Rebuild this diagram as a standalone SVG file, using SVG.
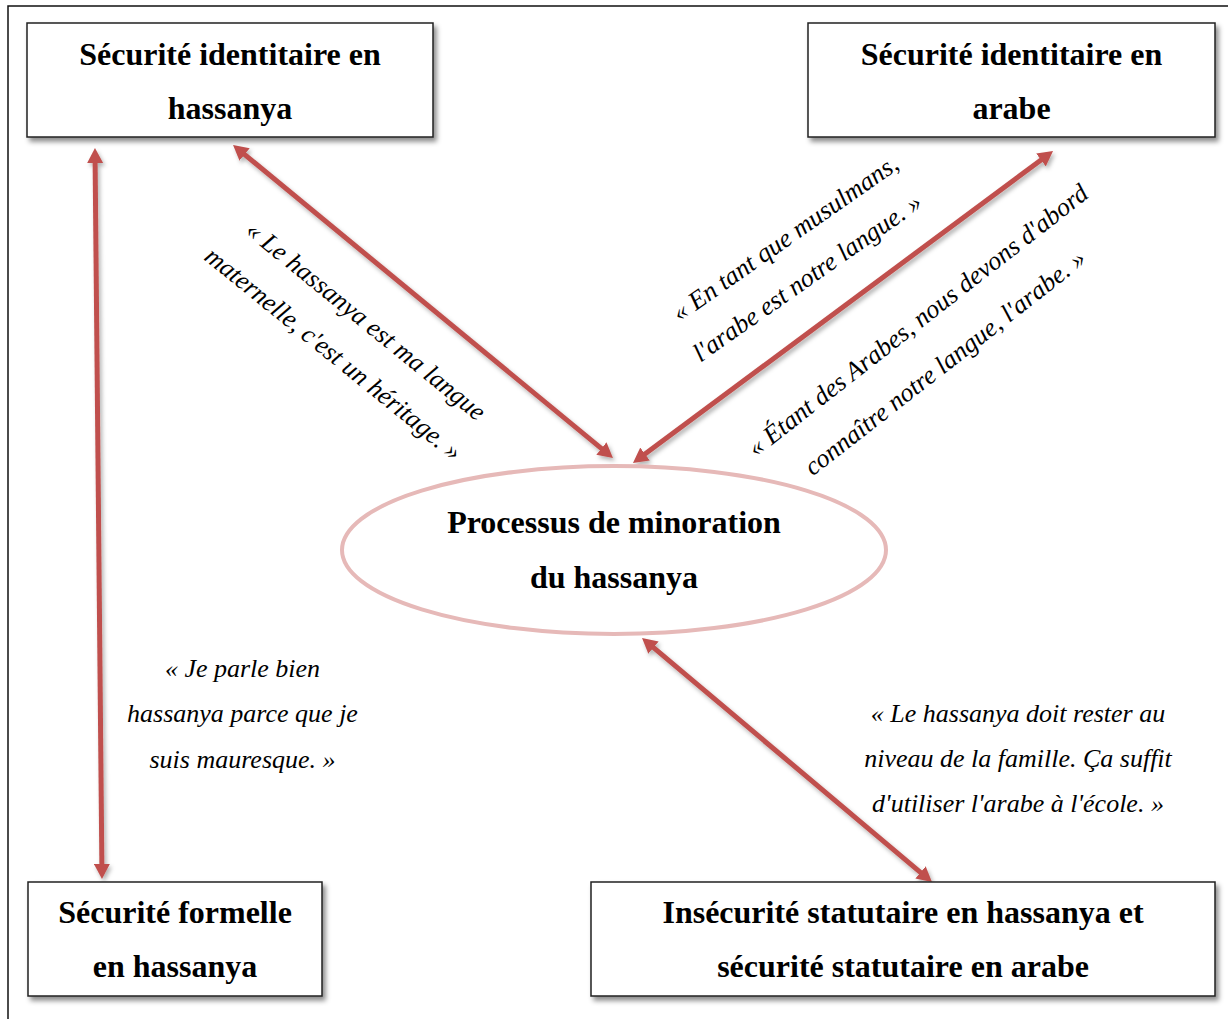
<svg xmlns="http://www.w3.org/2000/svg" width="1228" height="1019" viewBox="0 0 1228 1019">
<defs>
<style>
.box{fill:#fff;stroke:#222;stroke-width:1.5}
.bt{font-family:"Liberation Serif","Times New Roman",serif;font-weight:bold;font-size:32px;fill:#000;text-anchor:middle}
.q{font-family:"Liberation Serif","Times New Roman",serif;font-style:italic;font-size:26px;fill:#000;text-anchor:middle}
.arr{stroke:#c0504d;stroke-width:5;fill:none;marker-start:url(#ah);marker-end:url(#ah)}
</style>
<filter id="sh" x="-10%" y="-10%" width="130%" height="140%">
<feDropShadow dx="3" dy="4" stdDeviation="2.5" flood-color="#000" flood-opacity="0.45"/>
</filter>
<filter id="ash" x="-10%" y="-10%" width="130%" height="130%">
<feDropShadow dx="2" dy="3" stdDeviation="2" flood-color="#000" flood-opacity="0.3"/>
</filter>
<marker id="ah" markerUnits="userSpaceOnUse" markerWidth="16" markerHeight="16" refX="3" refY="8" orient="auto-start-reverse" viewBox="0 0 16 16">
<path d="M0,0 L15,8 L0,16 z" fill="#c0504d"/>
</marker>
</defs>
<rect width="1228" height="1019" fill="#fff"/>
<rect x="8" y="6" width="1240" height="1040" fill="none" stroke="#111" stroke-width="1.5"/>

<g id="connectors" filter="url(#ash)">
<line class="arr" x1="95.1" y1="160" x2="101.9" y2="867"/>
<line class="arr" x1="242.3" y1="152.6" x2="603.7" y2="450.4"/>
<line class="arr" x1="1043.4" y1="158.2" x2="642.6" y2="455.8"/>
<line class="arr" x1="651.2" y1="645.7" x2="922.8" y2="874.3"/>
</g>

<g id="node-identitaire-hassanya">
<rect class="box" x="27" y="23" width="406" height="114" filter="url(#sh)"/>
<text class="bt" x="230" y="65">Sécurité identitaire en</text>
<text class="bt" x="230" y="119">hassanya</text>
</g>

<g id="node-identitaire-arabe">
<rect class="box" x="808" y="23" width="407" height="114" filter="url(#sh)"/>
<text class="bt" x="1011.5" y="65">Sécurité identitaire en</text>
<text class="bt" x="1011.5" y="119">arabe</text>
</g>

<g id="node-formelle">
<rect class="box" x="28" y="882" width="294" height="114" filter="url(#sh)"/>
<text class="bt" x="175" y="923">Sécurité formelle</text>
<text class="bt" x="175" y="977">en hassanya</text>
</g>

<g id="node-statutaire">
<rect class="box" x="591" y="882" width="624" height="114" filter="url(#sh)"/>
<text class="bt" x="903" y="923">Insécurité statutaire en hassanya et</text>
<text class="bt" x="903" y="977">sécurité statutaire en arabe</text>
</g>

<g id="node-minoration">
<ellipse cx="614" cy="550" rx="272" ry="84" fill="#fff" stroke="#e6b9b8" stroke-width="4"/>
<text class="bt" x="614" y="533">Processus de minoration</text>
<text class="bt" x="614" y="588">du hassanya</text>
</g>

<g id="labels">
<text class="q" transform="translate(360.6,327.4) rotate(39)"><tspan x="0" y="0">« Le hassanya est ma langue</tspan><tspan x="-4.5" y="46">maternelle, c'est un héritage. »</tspan></text>
<text class="q" transform="translate(790,245) rotate(-35)"><tspan x="0" y="0">« En tant que musulmans,</tspan><tspan x="-4.6" y="45">l'arabe est notre langue. »</tspan></text>
<text class="q" transform="translate(923,327) rotate(-38)"><tspan x="0" y="0">« Étant des Arabes, nous devons d'abord</tspan><tspan x="-4.6" y="50">connaître notre langue, l'arabe. »</tspan></text>
<text class="q" x="242.5" y="677">« Je parle bien</text>
<text class="q" x="242.5" y="722">hassanya parce que je</text>
<text class="q" x="242.5" y="768">suis mauresque. »</text>
<text class="q" x="1018" y="722">« Le hassanya doit rester au</text>
<text class="q" x="1018" y="767">niveau de la famille. Ça suffit</text>
<text class="q" x="1018" y="812">d'utiliser l'arabe à l'école. »</text>
</g>
</svg>
